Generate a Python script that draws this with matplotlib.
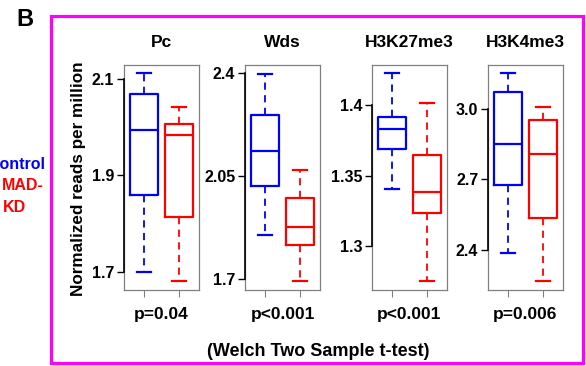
import matplotlib
matplotlib.use("Agg")
import matplotlib.pyplot as plt
from matplotlib.patches import Rectangle
import matplotlib.transforms as mtransforms

plt.rcParams['font.family'] = ['Liberation Sans', 'DejaVu Sans']
plt.rcParams['font.weight'] = 'bold'

# ---- data ----
titles = ["Pc", "Wds", "H3K27me3", "H3K4me3"]
pvalues = ["p=0.04", "p<0.001", "p<0.001", "p=0.006"]
groups = ["Control", "KD"]
group_colors = ["#0000FF", "#FF0000"]

# per panel: [control, KD]
whis_lo = [[1.700, 1.680], [1.849, 1.691], [1.3406, 1.2756], [2.385, 2.267]]
q1 = [[1.860, 1.813], [2.014, 1.814], [1.3690, 1.3239], [2.677, 2.535]]
median = [[1.995, 1.983], [2.133, 1.876], [1.3832, 1.3385], [2.851, 2.807]]
q3 = [[2.068, 2.006], [2.258, 1.975], [1.3917, 1.3648], [3.071, 2.952]]
whis_hi = [[2.113, 2.041], [2.398, 2.069], [1.4230, 1.4014], [3.151, 3.0085]]

ytick_vals = [[1.7, 1.9, 2.1], [1.7, 2.05, 2.4], [1.3, 1.35, 1.4], [2.4, 2.7, 3.0]]
ytick_labels = [["1.7", "1.9", "2.1"], ["1.7", "2.05", "2.4"],
                ["1.3", "1.35", "1.4"], ["2.4", "2.7", "3.0"]]
ylims = [(1.662, 2.129), (1.662, 2.427), (1.269, 1.4286), (2.2285, 3.186)]

W, H = 586, 366
fig = plt.figure(figsize=(W / 100, H / 100), dpi=100)

lefts = [124, 245, 372, 488]
pw = 75
top_px, bot_px = 65, 290

for i in range(4):
    ax = fig.add_axes([lefts[i] / W, 1 - bot_px / H, pw / W, (bot_px - top_px) / H])
    stats = []
    for g in range(2):
        stats.append(dict(med=median[i][g], q1=q1[i][g], q3=q3[i][g],
                          whislo=whis_lo[i][g], whishi=whis_hi[i][g], fliers=[]))
    b = ax.bxp(stats, positions=[1, 2], widths=0.8, showfliers=False,
               patch_artist=False, manage_ticks=False)
    for g in range(2):
        c = group_colors[g]
        b['boxes'][g].set(color=c, linewidth=1.6)
        b['medians'][g].set(color=c, linewidth=1.6)
        for k in (2 * g, 2 * g + 1):
            b['whiskers'][k].set(color=c, linewidth=1.3, linestyle=(0, (4, 3)))
            b['caps'][k].set(color=c, linewidth=1.6)
    ax.set_xlim(0.42, 2.58)
    ax.set_ylim(*ylims[i])
    ax.set_xticks([1, 2])
    ax.set_xticklabels([])
    ax.tick_params(axis='x', colors='#808080', length=5, width=0.8)
    ax.set_yticks(ytick_vals[i])
    ax.set_yticklabels(ytick_labels[i], fontsize=11.5, fontweight='bold')
    ax.tick_params(axis='y', length=5, width=1.0, pad=2, colors='black')
    for s in ax.spines.values():
        s.set_color('#808080')
        s.set_linewidth(0.9)
    trans = mtransforms.blended_transform_factory(ax.transAxes, ax.transData)
    ax.plot([0, 0], [ytick_vals[i][0], ytick_vals[i][-1]], transform=trans,
            color='black', linewidth=1.2, clip_on=False, zorder=5)
    ax.set_title(titles[i], fontsize=12.5, fontweight='bold', pad=13)
    ax.text(0.5, -0.11, pvalues[i], transform=ax.transAxes, ha='center', va='center',
            fontsize=12.5, fontweight='bold')

fig.text(78 / W, 1 - 179 / H, "Normalized reads per million", rotation=90,
         ha='center', va='center', fontsize=12.3, fontweight='bold')
fig.text(318 / W, 1 - 352 / H, "(Welch Two Sample t-test)", ha='center', va='center',
         fontsize=13, fontweight='bold')
fig.text(25 / W, 1 - 20 / H, "B", ha='center', va='center', fontsize=17, fontweight='bold')

fig.text(45 / W, 1 - 164 / H, groups[0], ha='right', va='center', fontsize=11.5,
         fontweight='bold', color=group_colors[0])
fig.text(44 / W, 1 - 186 / H, "MAD-", ha='right', va='center', fontsize=11.5,
         fontweight='bold', color=group_colors[1])
fig.text(14 / W, 1 - 207 / H, groups[1], ha='center', va='center', fontsize=11.5,
         fontweight='bold', color=group_colors[1])

fig.patches.append(Rectangle((51 / W, 1 - 363 / H), (583 - 51) / W, (363 - 16) / H,
                             transform=fig.transFigure, fill=False,
                             edgecolor='#FF00FF', linewidth=2.3))

fig.savefig("out.png", dpi=100)
